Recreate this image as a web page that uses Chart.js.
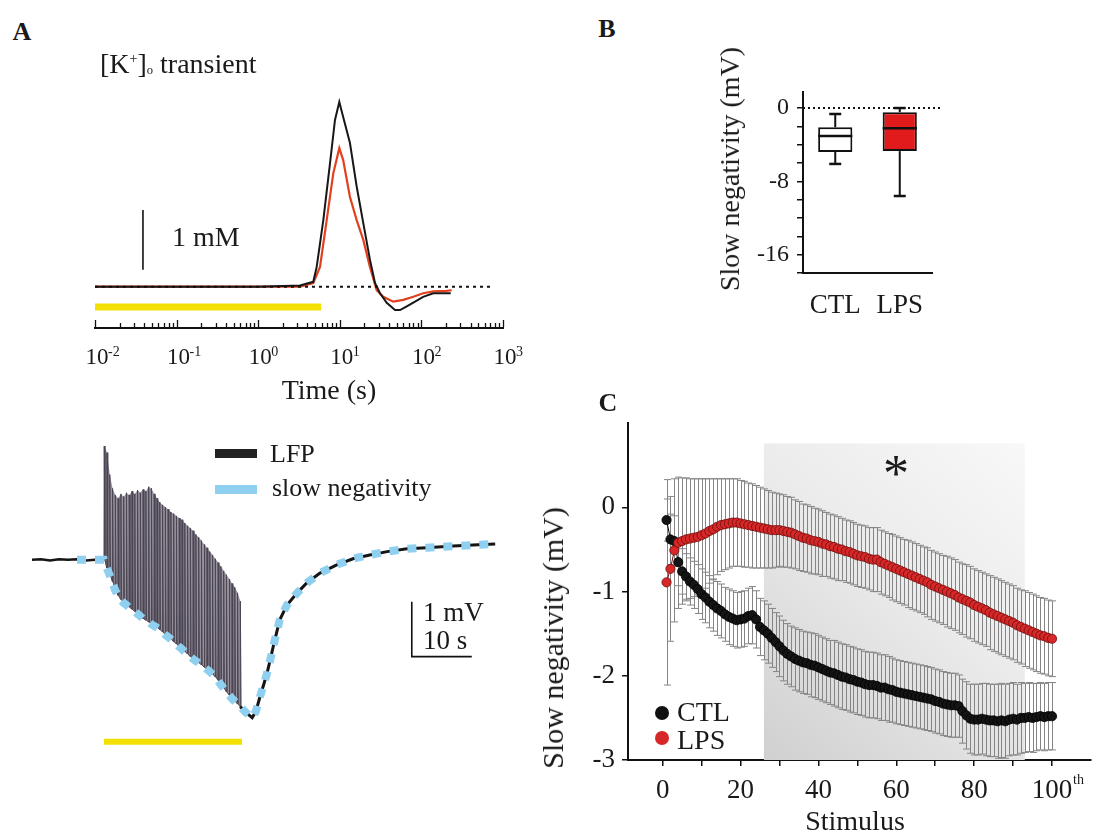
<!DOCTYPE html>
<html>
<head>
<meta charset="utf-8">
<script src="https://cdn.jsdelivr.net/npm/chart.js@4.4.1/dist/chart.umd.min.js"></script>
<style>
html,body{margin:0;padding:0;background:#fff;}
#fig{position:relative;width:1096px;height:833px;overflow:hidden;background:#fff;
  font-family:"Liberation Serif","Times New Roman",serif;color:#1a1a1a;}
#fig canvas{position:absolute;}
.t{position:absolute;white-space:nowrap;line-height:1;}
.c{transform:translate(-50%,-50%);}
.l{transform:translate(0,-50%);}
.rot{transform:translate(-50%,-50%) rotate(-90deg);}
.b{font-weight:bold;}
.sw{position:absolute;}
.dot{position:absolute;border-radius:50%;transform:translate(-50%,-50%);}
</style>
</head>
<body>
<div id="fig">
  <canvas id="kChart" width="540" height="345" style="left:0;top:60px;width:540px;height:345px;"></canvas>
  <canvas id="lfpChart" width="540" height="345" style="left:0;top:420px;width:540px;height:345px;"></canvas>
  <canvas id="boxChart" width="370" height="260" style="left:580px;top:60px;width:370px;height:260px;"></canvas>
  <canvas id="snChart" width="556" height="433" style="left:540px;top:400px;width:556px;height:433px;"></canvas>

  <div class="t c b" style="left:22px;top:32px;font-size:26px;">A</div>
  <div class="t l" style="left:100px;top:64px;font-size:28px;">[K<span style="font-size:0.5em;vertical-align:0.75em;">+</span>]<span style="font-size:0.45em;vertical-align:-0.1em;">o</span> transient</div>
  <div class="t l" style="left:172px;top:237px;font-size:28px;">1 mM</div>
  <div class="t c" style="left:329px;top:390px;font-size:28px;">Time (s)</div>

  <div class="sw" style="left:215px;top:449px;width:42px;height:9px;background:#222;"></div>
  <div class="sw" style="left:215px;top:485px;width:42px;height:9px;background:#8fcff0;"></div>
  <div class="t l" style="left:270px;top:454px;font-size:26px;">LFP</div>
  <div class="t l" style="left:272px;top:488px;font-size:26px;">slow negativity</div>
  <div class="t l" style="left:423px;top:612px;font-size:27px;">1 mV</div>
  <div class="t l" style="left:423px;top:640px;font-size:27px;">10 s</div>

  <div class="t c b" style="left:607px;top:29px;font-size:26px;">B</div>
  <div class="t rot" style="left:730px;top:169px;font-size:28px;">Slow negativity (mV)</div>

  <div class="t c b" style="left:608px;top:403px;font-size:26px;">C</div>
  <div class="t rot" style="left:553px;top:638px;font-size:30px;">Slow negativity (mV)</div>
  <div class="t c" style="left:855px;top:821px;font-size:28px;">Stimulus</div>
  <div class="t" style="left:896px;top:448px;font-size:52px;transform:translateX(-50%);">*</div>
  <div class="dot" style="left:662px;top:713px;width:14px;height:14px;background:#111;"></div>
  <div class="dot" style="left:662px;top:738px;width:14px;height:14px;background:#d62828;"></div>
  <div class="t l" style="left:677px;top:712px;font-size:28px;">CTL</div>
  <div class="t l" style="left:677px;top:740px;font-size:28px;">LPS</div>
</div>

<script>
// ---------------- DATA ----------------
// Panel A (top): [K+]o transient, time in s (log axis), concentration change in mM
const kCtlTime = [0.01, 0.1, 1, 3.25, 4.73, 5.21, 6.28, 7.59, 8.73, 9.86, 11.0, 13.3, 16.1, 19.4, 23.4, 27.0, 31.1, 37.6, 47.5, 54.7, 66.1, 83.6, 105, 140, 185, 229];
const kCtlConc = [0, 0, 0, 0.02, 0.08, 0.33, 1.11, 2.06, 2.78, 3.08, 2.83, 2.40, 1.67, 1.06, 0.45, 0.06, -0.11, -0.27, -0.39, -0.39, -0.33, -0.25, -0.17, -0.11, -0.11, -0.11];
const kLpsTime = [0.01, 0.5, 3.25, 4.73, 5.72, 6.91, 8.32, 9.86, 11.0, 13.3, 16.1, 19.4, 23.4, 28.3, 34.1, 45.3, 60.0, 79.6, 105, 140, 204, 235];
const kLpsConc = [0, 0, 0, 0.06, 0.33, 1.11, 1.89, 2.31, 2.11, 1.50, 1.11, 0.78, 0.33, -0.06, -0.17, -0.25, -0.22, -0.17, -0.11, -0.08, -0.07, -0.06];
const kDecades = [-2, -1, 0, 1, 2, 3];          // tick labels 10^e
const kMinorMultipliers = [1, 2, 3, 4, 5, 6, 7, 8, 9];
const kStim = [0.01, 5.9];                      // stimulation period (s)
const kBaselineEnd = 750;                       // dotted reference line end (s)
const kScaleBarTime = 0.0387, kScaleBarBase = 0.28, kScaleBarSize = 1; // 1 mM bar

// Panel A (bottom): LFP trace, time in s (0 = first stimulus), voltage in mV
const spikeInterval = 0.463;
const lfpSpikeTop = [2.07,1.95,1.55,1.30,1.18,1.12,1.20,1.15,1.22,1.18,1.25,1.20,1.27,1.22,1.28,1.25,1.33,1.30,1.20,1.12,
  1.05,1.00,0.96,0.92,0.87,0.84,0.80,0.76,0.73,0.67,0.62,0.58,0.53,0.46,0.41,0.35,0.28,0.22,0.15,0.09,
  0.02,-0.05,-0.12,-0.20,-0.27,-0.35,-0.43,-0.50,-0.60,-0.75];
const lfpSpikeTrough = [0.00,-0.15,-0.27,-0.40,-0.55,-0.65,-0.72,-0.78,-0.82,-0.86,-0.90,-0.94,-0.98,-1.02,-1.07,-1.10,-1.13,-1.17,-1.20,-1.23,
  -1.27,-1.31,-1.36,-1.40,-1.44,-1.49,-1.53,-1.58,-1.62,-1.67,-1.71,-1.76,-1.80,-1.84,-1.87,-1.91,-1.95,-1.99,-2.03,-2.08,
  -2.13,-2.19,-2.27,-2.33,-2.40,-2.46,-2.52,-2.57,-2.62,-2.67];
const lfpBaseT = [-12, -10.5, -9, -7.5, -6, -4.5, -3, -1.5, 0];
const lfpBaseV = [0, 0.01, -0.01, 0.01, 0, 0.01, -0.01, 0, 0];
const lfpRecT = [22.7,23.7,24.7,25.3,26.0,26.7,27.2,27.7,28.2,28.8,29.3,30.5,32.2,33.8,36.0,38.8,41.5,44.3,47.2,50.5,53.8,58.2,61.5,65.2];
const lfpRecV = [-2.67,-2.78,-2.87,-2.76,-2.49,-2.24,-2.05,-1.82,-1.58,-1.31,-1.09,-0.82,-0.60,-0.42,-0.24,-0.09,0.02,0.09,0.15,0.20,0.22,0.25,0.27,0.29];
const slowNegStartT = -4.5;
const lfpStim = [0, 23];
const lfpScaleOrigin = [51.3, -1.76], lfpScaleMv = 1, lfpScaleSec = 10;

// Panel B: box plot (mV)
const boxCategories = ['CTL', 'LPS'];
const boxQ1 = [-4.8, -4.7];
const boxMedian = [-3.05, -2.2];
const boxQ3 = [-2.1, -0.45];
const whiskerLow = [-6.1, -9.6];
const whiskerHigh = [-0.65, 0.0];
const boxRefLine = 0;
const boxTickLabels = [0, -8, -16];

// Panel C: slow negativity per stimulus (mean ± SEM, mV)
const stimulus = Array.from({length: 100}, (_, i) => i + 1);
const ctlMean = [-0.15,-0.38,-0.40,-0.65,-0.76,-0.82,-0.88,-0.92,-0.97,-1.03,
  -1.07,-1.12,-1.16,-1.20,-1.23,-1.27,-1.30,-1.32,-1.34,-1.33,
  -1.32,-1.29,-1.28,-1.33,-1.42,-1.46,-1.50,-1.55,-1.60,-1.65,
  -1.70,-1.74,-1.77,-1.80,-1.82,-1.84,-1.85,-1.87,-1.88,-1.90,
  -1.92,-1.94,-1.96,-1.97,-1.99,-2.01,-2.02,-2.04,-2.05,-2.07,
  -2.08,-2.10,-2.11,-2.11,-2.12,-2.14,-2.14,-2.16,-2.17,-2.19,
  -2.20,-2.21,-2.22,-2.23,-2.24,-2.25,-2.26,-2.27,-2.28,-2.30,
  -2.31,-2.33,-2.34,-2.35,-2.35,-2.36,-2.42,-2.47,-2.51,-2.52,
  -2.52,-2.51,-2.52,-2.53,-2.53,-2.54,-2.53,-2.54,-2.52,-2.51,
  -2.52,-2.50,-2.50,-2.49,-2.50,-2.49,-2.48,-2.49,-2.48,-2.48];
const ctlSem = [0.25,0.30,0.30,0.28,0.27,0.27,0.28,0.28,0.29,0.30,
  0.30,0.31,0.31,0.32,0.32,0.32,0.33,0.33,0.33,0.33,
  0.33,0.33,0.34,0.34,0.34,0.35,0.35,0.35,0.35,0.36,
  0.36,0.36,0.36,0.37,0.37,0.37,0.37,0.38,0.38,0.38,
  0.38,0.38,0.38,0.39,0.39,0.39,0.39,0.39,0.39,0.39,
  0.39,0.39,0.39,0.39,0.39,0.39,0.39,0.39,0.38,0.38,
  0.38,0.38,0.38,0.38,0.38,0.38,0.38,0.38,0.38,0.38,
  0.38,0.38,0.38,0.38,0.38,0.37,0.38,0.40,0.41,0.42,
  0.42,0.42,0.43,0.43,0.43,0.44,0.44,0.44,0.43,0.43,
  0.42,0.42,0.41,0.41,0.41,0.40,0.40,0.40,0.40,0.40];
const lpsMean = [-0.89,-0.73,-0.51,-0.42,-0.40,-0.38,-0.37,-0.36,-0.35,-0.33,
  -0.31,-0.28,-0.26,-0.23,-0.21,-0.20,-0.19,-0.18,-0.18,-0.19,
  -0.20,-0.21,-0.22,-0.23,-0.24,-0.25,-0.26,-0.27,-0.27,-0.27,
  -0.28,-0.29,-0.30,-0.32,-0.34,-0.36,-0.37,-0.39,-0.40,-0.41,
  -0.43,-0.44,-0.46,-0.47,-0.49,-0.50,-0.52,-0.53,-0.55,-0.57,
  -0.58,-0.59,-0.61,-0.62,-0.62,-0.65,-0.67,-0.69,-0.71,-0.73,
  -0.75,-0.77,-0.79,-0.81,-0.83,-0.85,-0.87,-0.89,-0.92,-0.94,
  -0.96,-0.98,-1.00,-1.02,-1.04,-1.07,-1.09,-1.11,-1.13,-1.16,
  -1.18,-1.20,-1.22,-1.25,-1.27,-1.29,-1.31,-1.33,-1.35,-1.37,
  -1.40,-1.42,-1.44,-1.46,-1.48,-1.50,-1.52,-1.53,-1.55,-1.56];
const lpsSem = [1.22,0.86,0.85,0.78,0.75,0.73,0.71,0.70,0.69,0.67,
  0.65,0.62,0.60,0.57,0.55,0.54,0.53,0.52,0.52,0.51,
  0.51,0.50,0.50,0.49,0.48,0.47,0.46,0.45,0.44,0.43,
  0.43,0.42,0.42,0.41,0.41,0.40,0.40,0.40,0.39,0.39,
  0.39,0.38,0.38,0.38,0.38,0.37,0.37,0.37,0.37,0.37,
  0.37,0.37,0.37,0.38,0.38,0.38,0.38,0.38,0.39,0.39,
  0.39,0.39,0.40,0.40,0.40,0.40,0.40,0.41,0.41,0.41,
  0.41,0.41,0.42,0.42,0.42,0.42,0.42,0.43,0.43,0.43,
  0.43,0.43,0.43,0.44,0.44,0.44,0.44,0.44,0.44,0.44,
  0.44,0.44,0.45,0.45,0.45,0.45,0.45,0.45,0.45,0.45];
const shadeRange = [26, 93];   // significance window (stimulus #)
const shadeTop = 0.76;         // mV
const xTickSuffixValue = 100;

// ---------------- CHARTS ----------------
Chart.defaults.font.family = '"Liberation Serif", "Times New Roman", serif';
Chart.defaults.color = '#1a1a1a';
Chart.defaults.animation = false;
Chart.defaults.plugins.legend.display = false;
Chart.defaults.plugins.tooltip.enabled = false;
Chart.defaults.elements.point.radius = 0;

const pts = (xs, ys) => xs.map((x, i) => ({x: x, y: ys[i]}));

// ---- Panel A top ----
const kAxisPlugin = {
  id: 'kAxis',
  afterDraw(chart) {
    const {ctx, chartArea, scales: {x}} = chart;
    const y0 = chartArea.bottom;
    ctx.save();
    ctx.strokeStyle = '#111';
    ctx.lineWidth = 1.3;
    kDecades.forEach((e, k) => {
      const mults = k < kDecades.length - 1 ? kMinorMultipliers : [1];
      mults.forEach(m => {
        const px = Math.round(x.getPixelForValue(m * Math.pow(10, e))) + 0.5;
        const len = m === 1 ? 7 : 4;
        ctx.beginPath(); ctx.moveTo(px, y0 - 1); ctx.lineTo(px, y0 - 1 - len); ctx.stroke();
      });
      const px = x.getPixelForValue(Math.pow(10, e));
      ctx.fillStyle = '#1a1a1a';
      ctx.font = '23px "Liberation Serif"';
      ctx.textAlign = 'center'; ctx.textBaseline = 'alphabetic';
      ctx.fillText('10', px + 2, y0 + 36);
      ctx.font = '14px "Liberation Serif"';
      ctx.textAlign = 'left';
      ctx.fillText(String(e), px + 13, y0 + 28);
    });
    ctx.restore();
  }
};

new Chart(document.getElementById('kChart'), {
  type: 'line',
  data: {
    datasets: [
      {label: 'baseline', data: [{x: 0.01, y: 0}, {x: kBaselineEnd, y: 0}],
        borderColor: '#111', borderWidth: 2, borderDash: [3, 4], order: 0},
      {label: 'CTL', data: pts(kCtlTime, kCtlConc), borderColor: '#171717', borderWidth: 2, order: 1},
      {label: 'LPS', data: pts(kLpsTime, kLpsConc), borderColor: '#e2401f', borderWidth: 2.2, order: 2},
      {label: 'stimulus', data: [{x: kStim[0], y: -0.34}, {x: kStim[1], y: -0.34}],
        borderColor: '#f3e000', borderWidth: 7, order: 3},
      {label: 'scale', data: [{x: kScaleBarTime, y: kScaleBarBase}, {x: kScaleBarTime, y: kScaleBarBase + kScaleBarSize}],
        borderColor: '#111', borderWidth: 1.6, order: 0}
    ]
  },
  options: {
    responsive: false, devicePixelRatio: 1,
    layout: {padding: {left: 95, right: 37, top: 30, bottom: 0}},
    scales: {
      x: {type: 'logarithmic', min: 0.01, max: 1000,
        grid: {display: false}, ticks: {display: false},
        border: {display: true, color: '#111', width: 2},
        afterFit: s => { s.height = 77; }},
      y: {display: false, min: -0.69, max: 3.28}
    }
  },
  plugins: [kAxisPlugin]
});

// ---- Panel A bottom (LFP) ----
const spikeT = lfpSpikeTop.map((_, i) => i * spikeInterval);
const zigzag = [];
spikeT.forEach((t, i) => {
  zigzag.push({x: t, y: lfpSpikeTrough[i]});
  zigzag.push({x: t + 0.04, y: lfpSpikeTop[i]});
  zigzag.push({x: t + 0.16, y: lfpSpikeTrough[i]});
});
const slowNeg = [{x: slowNegStartT, y: 0}].concat(pts(spikeT, lfpSpikeTrough), pts(lfpRecT, lfpRecV));

new Chart(document.getElementById('lfpChart'), {
  type: 'line',
  data: {
    datasets: [
      {label: 'envelope', data: spikeT.map((t, i) => ({x: t + 0.04, y: lfpSpikeTop[i]})),
        borderWidth: 0, borderColor: 'rgba(0,0,0,0)', fill: 1, backgroundColor: 'rgba(132,126,140,0.85)', order: 6},
      {label: 'trough', data: pts(spikeT, lfpSpikeTrough), borderWidth: 0, borderColor: 'rgba(0,0,0,0)', order: 7},
      {label: 'LFP spikes', data: zigzag, borderColor: '#4a4551', borderWidth: 1, order: 5},
      {label: 'LFP baseline', data: pts(lfpBaseT, lfpBaseV), borderColor: '#151515', borderWidth: 2.5, order: 4},
      {label: 'LFP recovery', data: pts(lfpRecT, lfpRecV), borderColor: '#151515', borderWidth: 3, order: 3},
      {label: 'slow negativity', data: slowNeg, borderColor: '#8fcff0', borderWidth: 8, borderDash: [9, 9], order: 1},
      {label: 'stimulus', data: [{x: lfpStim[0], y: -3.31}, {x: lfpStim[1], y: -3.31}],
        borderColor: '#f3e000', borderWidth: 6, order: 0},
      {label: 'scale bar', data: [
          {x: lfpScaleOrigin[0], y: lfpScaleOrigin[1] + lfpScaleMv},
          {x: lfpScaleOrigin[0], y: lfpScaleOrigin[1]},
          {x: lfpScaleOrigin[0] + lfpScaleSec, y: lfpScaleOrigin[1]}],
        borderColor: '#111', borderWidth: 1.6, tension: 0, order: 0}
    ]
  },
  options: {
    responsive: false, devicePixelRatio: 1,
    layout: {padding: {left: 32, right: 42, top: 20, bottom: 5}},
    scales: {
      x: {type: 'linear', display: false, min: -12, max: 65.67},
      y: {display: false, min: -3.64, max: 2.18}
    }
  }
});

// ---- Panel B (box plot) ----
const boxPlugin = {
  id: 'boxExtras',
  afterDatasetsDraw(chart) {
    const {ctx, chartArea, scales: {y}} = chart;
    const meta = chart.getDatasetMeta(0);
    ctx.save();
    ctx.strokeStyle = '#111';
    const line = (x1, y1, x2, y2, w) => { ctx.lineWidth = w; ctx.beginPath(); ctx.moveTo(x1, y1); ctx.lineTo(x2, y2); ctx.stroke(); };
    boxCategories.forEach((c, i) => {
      const bar = meta.data[i];
      const cx = bar.x, hw = bar.width / 2;
      const yMed = y.getPixelForValue(boxMedian[i]);
      line(cx - hw, yMed, cx + hw, yMed, 2.5);
      const yQ3 = y.getPixelForValue(boxQ3[i]), yHi = y.getPixelForValue(whiskerHigh[i]);
      const yQ1 = y.getPixelForValue(boxQ1[i]), yLo = y.getPixelForValue(whiskerLow[i]);
      line(cx, yQ3, cx, yHi, 2); line(cx - 6, yHi, cx + 6, yHi, 2.5);
      line(cx, yQ1, cx, yLo, 2); line(cx - 6, yLo, cx + 6, yLo, 2.5);
    });
    const y0 = y.getPixelForValue(boxRefLine);
    ctx.setLineDash([2, 3]);
    ctx.lineWidth = 2;
    ctx.beginPath(); ctx.moveTo(chartArea.left, y0); ctx.lineTo(chartArea.right + 10, y0); ctx.stroke();
    ctx.restore();
  }
};

new Chart(document.getElementById('boxChart'), {
  type: 'bar',
  data: {
    labels: boxCategories,
    datasets: [{
      label: 'IQR',
      data: boxCategories.map((c, i) => [boxQ1[i], boxQ3[i]]),
      backgroundColor: ['#ffffff', '#e11b1b'],
      borderColor: '#111', borderWidth: 2, borderSkipped: false,
      barPercentage: 0.53, categoryPercentage: 1.0
    }]
  },
  options: {
    responsive: false, devicePixelRatio: 1,
    layout: {padding: {left: 0, right: 18, top: 32, bottom: 0}},
    scales: {
      x: {grid: {display: false}, border: {display: true, color: '#111', width: 2},
        ticks: {font: {size: 27}, padding: 9, color: '#1a1a1a', maxRotation: 0, autoSkip: false},
        afterFit: s => { s.height = 47; }},
      y: {min: -18, max: 1.75,
        ticks: {stepSize: 2, includeBounds: false, font: {size: 24}, padding: 8, color: '#1a1a1a', autoSkip: false,
          callback: v => (boxTickLabels.includes(Math.round(v)) ? String(Math.round(v)) : '')},
        grid: {display: true, drawOnChartArea: false, drawTicks: true, tickLength: 6, color: '#111', lineWidth: 1.5},
        border: {display: true, color: '#111', width: 2},
        afterFit: s => { s.width = 223; }}
    }
  },
  plugins: [boxPlugin]
});

// ---- Panel C ----
const snPlugin = {
  id: 'snExtras',
  beforeDatasetsDraw(chart) {
    const {ctx, chartArea: a, scales: {x, y}} = chart;
    ctx.save();
    const x0 = x.getPixelForValue(shadeRange[0]), x1 = x.getPixelForValue(shadeRange[1]);
    const yT = y.getPixelForValue(shadeTop), yB = a.bottom;
    const g = ctx.createLinearGradient(x0, yB, x1, yT);
    g.addColorStop(0, '#d0d0d0');
    g.addColorStop(0.55, '#ebebeb');
    g.addColorStop(1, '#f8f8f8');
    ctx.fillStyle = g;
    ctx.fillRect(x0, yT, x1 - x0, yB - yT);
    ctx.strokeStyle = '#858585';
    ctx.lineWidth = 1;
    [[ctlMean, ctlSem], [lpsMean, lpsSem]].forEach(([m, s]) => {
      stimulus.forEach((n, i) => {
        const px = Math.round(x.getPixelForValue(n)) + 0.5;
        const yh = y.getPixelForValue(m[i] + s[i]);
        const yl = y.getPixelForValue(m[i] - s[i]);
        ctx.beginPath();
        ctx.moveTo(px, yh); ctx.lineTo(px, yl);
        ctx.moveTo(px - 3.5, yh); ctx.lineTo(px + 3.5, yh);
        ctx.moveTo(px - 3.5, yl); ctx.lineTo(px + 3.5, yl);
        ctx.stroke();
      });
    });
    ctx.restore();
  },
  afterDraw(chart) {
    const {ctx, scales: {x}, chartArea: a} = chart;
    const px = x.getPixelForValue(xTickSuffixValue);
    ctx.save();
    ctx.fillStyle = '#1a1a1a';
    ctx.font = '14px "Liberation Serif"';
    ctx.textAlign = 'left'; ctx.textBaseline = 'alphabetic';
    ctx.fillText('th', px + 21, a.bottom + 24);
    ctx.restore();
  }
};

new Chart(document.getElementById('snChart'), {
  type: 'scatter',
  data: {
    datasets: [
      {label: 'LPS', data: pts(stimulus, lpsMean), showLine: true,
        backgroundColor: '#d62828', borderColor: '#6e0d0d', borderWidth: 1,
        pointRadius: 4.6, pointBorderWidth: 0.8, order: 0},
      {label: 'CTL', data: pts(stimulus, ctlMean), showLine: true,
        backgroundColor: '#141414', borderColor: '#000', borderWidth: 1,
        pointRadius: 4.6, pointBorderWidth: 0.8, order: 1}
    ]
  },
  options: {
    responsive: false, devicePixelRatio: 1,
    layout: {padding: {left: 0, right: 0, top: 17, bottom: 0}},
    scales: {
      x: {type: 'linear', min: -8.9, max: 109.9,
        ticks: {stepSize: 10, includeBounds: false, font: {size: 27}, padding: 9, color: '#1a1a1a',
          maxRotation: 0, minRotation: 0, autoSkip: false,
          callback: v => (Math.round(v) % 20 === 0 ? String(Math.round(v)) : '')},
        grid: {display: true, drawOnChartArea: false, drawTicks: true, tickLength: 6, color: '#111', lineWidth: 1.5},
        border: {display: true, color: '#111', width: 2},
        afterFit: s => { s.height = 73; }},
      y: {min: -3, max: 1,
        ticks: {stepSize: 1, includeBounds: false, font: {size: 27}, padding: 7, color: '#1a1a1a', autoSkip: false,
          callback: v => (v <= 0 ? String(v) : '')},
        grid: {display: true, drawOnChartArea: false, drawTicks: true, tickLength: 6, lineWidth: 1.5,
          color: c => (c.tick && c.tick.value > 0 ? 'rgba(0,0,0,0)' : '#111')},
        border: {display: true, color: '#111', width: 2},
        afterFit: s => { s.width = 88; }}
    }
  },
  plugins: [snPlugin]
});
</script>
</body>
</html>
